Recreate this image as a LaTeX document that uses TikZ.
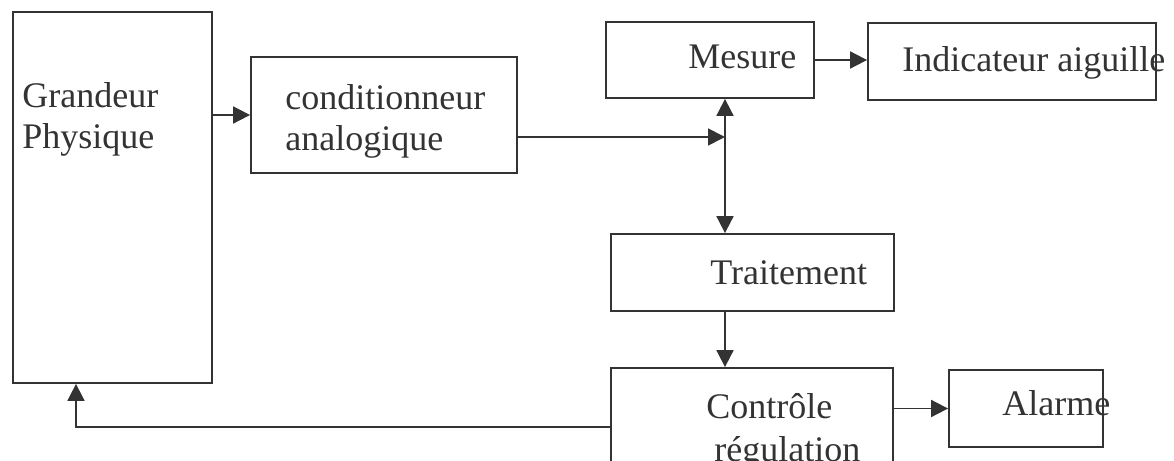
\documentclass[tikz,border=0pt]{standalone}
\usepackage{fontspec}
\setmainfont{Liberation Serif}
\usetikzlibrary{arrows.meta}
\colorlet{trait}{black!80}
\tikzset{bloc/.style = {shape=rectangle,draw=trait,line width=0.9pt,inner sep=0pt}}
\tikzset{texte/.style = {anchor=base west,inner sep=0pt,text=trait,align=left,
        font=\fontsize{18}{20.5}\selectfont}}
\tikzset{fleche/.style = {draw=trait,line width=0.9pt,-{Triangle[length=8.5pt,width=8.5pt]}}}
\tikzset{double/.style = {draw=trait,line width=0.9pt,{Triangle[length=8.5pt,width=8.5pt]}-{Triangle[length=8.5pt,width=8.5pt]}}}

\begin{document}
\begin{tikzpicture}[x=0.5pt,y=-0.5pt]
                \useasboundingbox (0,0) rectangle (1174,461);
                \clip (0,0) rectangle (1174,461);

                \node[bloc,minimum width=99.5pt,minimum height=185.5pt] (G) at (112.5,197.5) {};
                \node[bloc,minimum width=133pt,minimum height=58pt] (C) at (384,115) {};
                \node[bloc,minimum width=104pt,minimum height=38pt] (M) at (710,60) {};
                \node[bloc,minimum width=144pt,minimum height=38.5pt] (I) at (1012,61.5) {};
                \node[bloc,minimum width=141.5pt,minimum height=38.5pt] (T) at (752.5,272.5) {};
                \node[bloc,minimum width=141pt,minimum height=59pt] (R) at (752,427) {};
                \node[bloc,minimum width=77pt,minimum height=38.5pt] (A) at (1026,408.5) {};

                \node[texte] (tG) at (22,148) {Grandeur\\Physique};
                \node[texte] (tC) at (285,150) {conditionneur\\analogique};
                \node[texte] (tM) at (688,68) {Mesure};
                \node[texte] (tI) at (902,71) {Indicateur aiguille};
                \node[texte] (tT) at (710,284) {Traitement};
                \node[texte,font=\fontsize{18}{21.5}\selectfont] (tR) at (706,461) {Contrôle\\\hspace{4pt}régulation};
                \node[texte] (tA) at (1002,415) {Alarme};

                \coordinate (J) at (725,137);
                \coordinate (F) at (76,427);

                \draw[fleche] (G.east |- C.west) -- (C.west);
                \draw[fleche] (C.east |- J) -- (J);
                \draw[fleche] (M.east) -- (M.east -| I.west);
                \draw[double] (J |- M.south) -- (J |- T.north);
                \draw[fleche] (J |- T.south) -- (J |- R.north);
                \draw[fleche] (A.west -| R.east) -- (A.west);
                \draw[fleche] (R.west) -- (F) -- (F |- G.south);
            \end{tikzpicture}
\end{document}
